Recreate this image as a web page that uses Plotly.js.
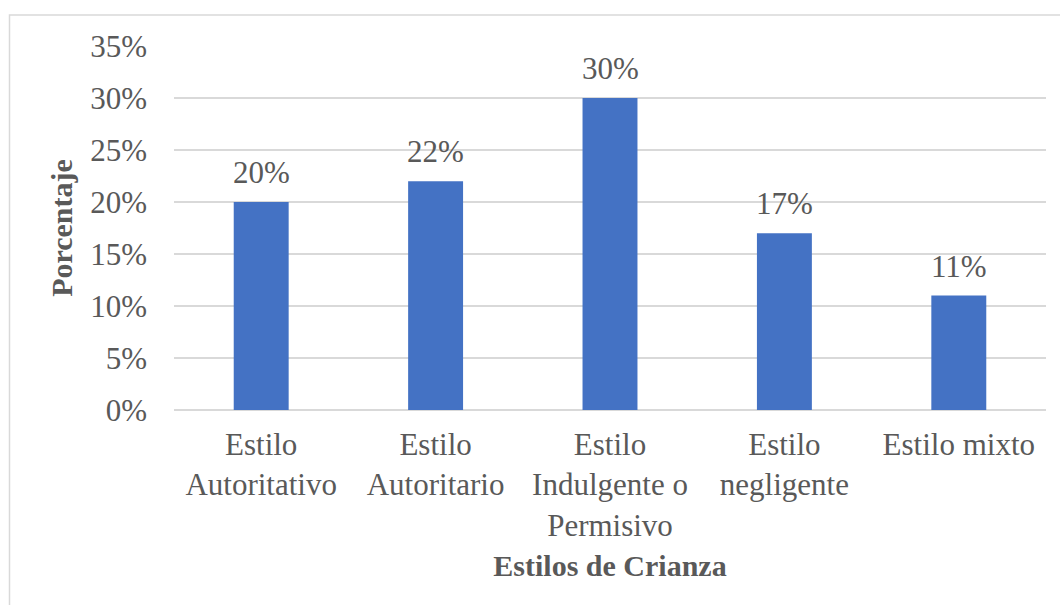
<!DOCTYPE html>
<html><head><meta charset="utf-8">
<script src="https://cdn.plot.ly/plotly-3.0.1.min.js"></script>
<style>html,body{margin:0;padding:0;background:#fff}#chart{width:1060px;height:605px}</style>
</head><body><div id="chart"></div>
<script>
const categories = ["Estilo<br>Autoritativo", "Estilo<br>Autoritario", "Estilo<br>Indulgente o<br>Permisivo", "Estilo<br>negligente", "Estilo mixto"];
const values = [0.20, 0.22, 0.30, 0.17, 0.11];
const yTickVals = [0, 0.05, 0.10, 0.15, 0.20, 0.25, 0.30, 0.35];

const fontFam = "Liberation Serif";
const textCol = "#595959";
const W = 1060, H = 605, L = 174, R = 14, T = 46, B = 195;
const pw = W - L - R, ph = H - T - B;
const px = v => (v - L) / pw, py = v => (H - B - v) / ph;

Plotly.newPlot("chart", [{
  type: "bar",
  x: categories,
  y: values,
  marker: {color: "#4472c4"},
  hoverinfo: "none"
}], {
  width: W, height: H,
  margin: {l: L, r: R, t: T, b: B},
  paper_bgcolor: "#fff", plot_bgcolor: "#fff",
  bargap: 0.685,
  showlegend: false,
  font: {family: fontFam, color: textCol, size: 31},
  xaxis: {
    tickfont: {family: fontFam, size: 31, color: textCol},
    ticks: "", showgrid: false, showline: false, zeroline: false,
    ticklabelstandoff: 13,
    title: {text: "<b>Estilos de Crianza</b>", font: {family: fontFam, size: 30, color: textCol}, standoff: 13}
  },
  yaxis: {
    range: [0, 0.35],
    tickvals: yTickVals,
    ticktext: yTickVals.map(v => Math.round(v * 100) + "%"),
    tickfont: {family: fontFam, size: 31, color: textCol},
    ticks: "", ticklabelstandoff: 26,
    showgrid: true, gridcolor: "#d9d9d9", gridwidth: 1.5,
    zeroline: true, zerolinecolor: "#d9d9d9", zerolinewidth: 1.5,
    showline: false,
    title: {text: "<b>Porcentaje</b>", font: {family: fontFam, size: 30, color: textCol}, standoff: 8}
  },
  annotations: categories.map((c, i) => ({
    x: c, y: values[i], xref: "x", yref: "y",
    text: Math.round(values[i] * 100) + "%",
    showarrow: false, yanchor: "bottom", yshift: 10,
    font: {family: fontFam, size: 31, color: textCol}
  })),
  shapes: [{
    type: "rect", xref: "paper", yref: "paper", layer: "below",
    x0: px(9.5), x1: px(1070), y0: py(615), y1: py(15),
    line: {color: "#d9d9d9", width: 1.5}, fillcolor: "rgba(0,0,0,0)"
  }]
}, {staticPlot: true});
</script></body></html>
